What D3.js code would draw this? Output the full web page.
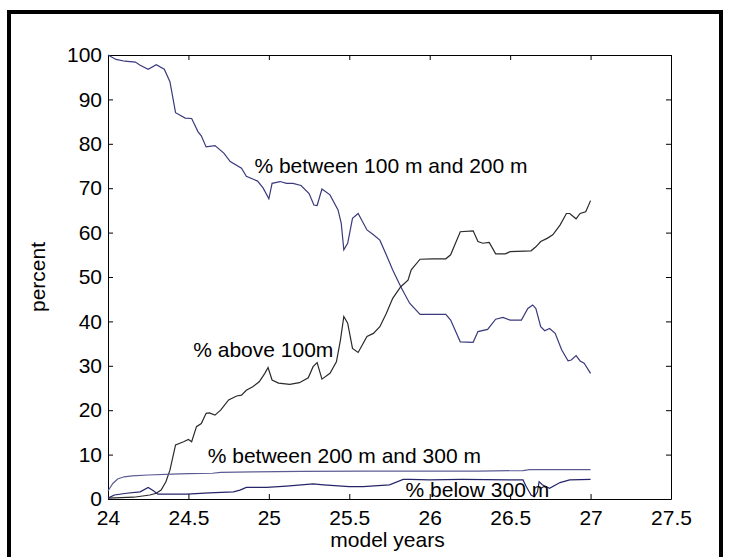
<!DOCTYPE html>
<html>
<head>
<meta charset="utf-8">
<script src="https://cdn.jsdelivr.net/npm/d3@7"></script>
<style>
  body { margin: 0; background: #fff; }
  svg text { font-family: "Liberation Sans", Arial, sans-serif; }
</style>
</head>
<body>
<svg id="chart" width="730" height="557"></svg>
<script>
// % of floats in each depth band (model years 24..27)
var midYears = [24.0, 24.05, 24.105, 24.17, 24.2, 24.25, 24.3, 24.35, 24.385, 24.42, 24.48, 24.52, 24.56, 24.58, 24.61, 24.665, 24.72, 24.76, 24.83, 24.86, 24.93, 24.965, 25.0, 25.02, 25.07, 25.11, 25.15, 25.2, 25.25, 25.28, 25.3, 25.33, 25.38, 25.43, 25.45, 25.466, 25.49, 25.52, 25.555, 25.61, 25.65, 25.69, 25.73, 25.77, 25.82, 25.875, 25.94, 26.02, 26.1, 26.13, 26.19, 26.27, 26.3, 26.36, 26.41, 26.455, 26.5, 26.57, 26.61, 26.64, 26.66, 26.69, 26.715, 26.745, 26.78, 26.82, 26.86, 26.88, 26.91, 26.935, 26.96, 27.0];
var midPct = [100, 99.0, 98.6, 98.4, 97.7, 96.8, 97.8, 96.8, 94.0, 87.0, 85.8, 85.7, 82.7, 81.8, 79.3, 79.6, 77.9, 76.0, 74.5, 72.7, 71.6, 70.0, 67.6, 71.1, 71.5, 71.1, 71.1, 70.6, 68.8, 66.2, 66.1, 69.8, 68.5, 65.1, 62.1, 56.1, 57.6, 63.2, 64.3, 60.6, 59.5, 58.3, 55.0, 51.6, 47.8, 44.1, 41.6, 41.6, 41.6, 40.3, 35.4, 35.3, 37.7, 38.2, 40.5, 40.9, 40.3, 40.3, 42.9, 43.7, 42.9, 38.8, 37.9, 38.4, 37.3, 33.6, 31.1, 31.3, 32.3, 31.1, 30.6, 28.3];

var aboveYears = [24.0, 24.16, 24.26, 24.3, 24.33, 24.36, 24.385, 24.42, 24.47, 24.5, 24.52, 24.55, 24.58, 24.61, 24.63, 24.665, 24.7, 24.75, 24.8, 24.83, 24.86, 24.9, 24.94, 24.975, 24.995, 25.02, 25.06, 25.13, 25.19, 25.245, 25.275, 25.3, 25.33, 25.38, 25.42, 25.445, 25.466, 25.49, 25.52, 25.555, 25.61, 25.65, 25.69, 25.73, 25.77, 25.82, 25.865, 25.885, 25.94, 26.02, 26.1, 26.13, 26.19, 26.27, 26.3, 26.33, 26.37, 26.41, 26.47, 26.5, 26.63, 26.66, 26.69, 26.73, 26.765, 26.81, 26.85, 26.87, 26.91, 26.935, 26.97, 27.0];
var abovePct = [0.2, 0.4, 0.9, 1.3, 2.0, 3.9, 6.5, 12.2, 12.9, 13.4, 12.9, 16.3, 17.0, 19.3, 19.4, 18.9, 20.0, 22.3, 23.2, 23.4, 24.5, 25.3, 26.4, 28.3, 29.6, 26.8, 26.1, 25.8, 26.2, 27.3, 29.8, 30.7, 27.0, 28.3, 30.9, 35.8, 41.1, 39.6, 33.9, 33.0, 36.6, 37.3, 38.8, 41.8, 45.2, 47.8, 49.3, 51.6, 54.0, 54.1, 54.1, 55.0, 60.2, 60.4, 58.0, 57.6, 57.8, 55.2, 55.2, 55.7, 55.9, 56.8, 58.0, 58.7, 59.5, 61.7, 64.3, 64.3, 63.1, 64.3, 64.7, 67.2];

var deepYears = [24.0, 24.03, 24.06, 24.1, 24.15, 24.25, 24.4, 24.5, 24.65, 24.7, 24.9, 25.2, 25.6, 26.3, 26.58, 26.62, 27.0];
var deepPct = [1.8, 3.5, 4.5, 5.0, 5.2, 5.4, 5.6, 5.7, 5.8, 6.0, 6.1, 6.2, 6.3, 6.3, 6.4, 6.6, 6.6];

var belowYears = [24.0, 24.04, 24.115, 24.2, 24.25, 24.28, 24.31, 24.36, 24.49, 24.63, 24.78, 24.82, 24.86, 24.985, 25.11, 25.275, 25.34, 25.5, 25.585, 25.75, 25.835, 25.875, 26.0, 26.2, 26.58, 26.6, 26.63, 26.65, 26.67, 26.68, 26.7, 26.745, 26.81, 26.87, 27.0];
var belowPct = [0.2, 0.9, 1.3, 1.6, 2.6, 1.9, 1.1, 1.1, 1.1, 1.4, 1.6, 2.0, 2.6, 2.6, 2.9, 3.4, 3.2, 2.8, 2.8, 3.2, 4.4, 4.4, 4.3, 4.4, 4.3, 2.8, 0.9, 0.5, 1.6, 3.9, 3.2, 2.4, 3.7, 4.3, 4.4];

var xTicks = [24, 24.5, 25, 25.5, 26, 26.5, 27, 27.5];
var yTicks = [0, 10, 20, 30, 40, 50, 60, 70, 80, 90, 100];

// text labels placed in data units, like matlab's text(x, y, str)
var labelText = ["% between 100 m and 200 m", "% above 100m", "% between 200 m and 300 m", "% below 300 m"];
var labelYear = [24.91, 24.53, 24.62, 25.85];
var labelPct = [75.0, 33.6, 9.7, 2.2];

var svg = d3.select("#chart");
var fontPx = 21;

// outer black frame
svg.append("rect")
    .attr("x", 9).attr("y", 12)
    .attr("width", 712).attr("height", 560)
    .attr("fill", "none")
    .attr("stroke", "#000")
    .attr("stroke-width", 4);

var plotL = 108, plotR = 671, plotT = 55, plotB = 499;

var x = d3.scaleLinear().domain([24, 27.5]).range([plotL, plotR]);
var y = d3.scaleLinear().domain([0, 100]).range([plotB, plotT]);

// axes box, ticks point inward
svg.append("g")
    .attr("transform", "translate(0," + plotB + ")")
    .call(d3.axisBottom(x).tickValues(xTicks).tickSizeInner(-5).tickSizeOuter(0).tickPadding(11)
        .tickFormat(d3.format("")));
svg.append("g")
    .attr("transform", "translate(0," + plotT + ")")
    .call(d3.axisTop(x).tickValues(xTicks).tickSizeInner(-5).tickSizeOuter(0).tickFormat(""));
svg.append("g")
    .attr("transform", "translate(" + plotL + ",0)")
    .call(d3.axisLeft(y).tickValues(yTicks).tickSizeInner(-5).tickSizeOuter(0).tickPadding(6));
svg.append("g")
    .attr("transform", "translate(" + plotR + ",0)")
    .call(d3.axisRight(y).tickValues(yTicks).tickSizeInner(-5).tickSizeOuter(0).tickFormat(""));

svg.selectAll(".tick text")
    .attr("font-size", fontPx)
    .attr("font-family", "Liberation Sans, Arial, sans-serif")
    .attr("fill", "#000");
svg.selectAll(".domain, .tick line").attr("stroke", "#000");

var line = d3.line()
    .x(function(d) { return x(d[0]); })
    .y(function(d) { return y(d[1]); });

var series = [
    {yrs: midYears, vals: midPct, color: "#3a3a7c"},
    {yrs: aboveYears, vals: abovePct, color: "#2a2a2a"},
    {yrs: deepYears, vals: deepPct, color: "#5c5c94"},
    {yrs: belowYears, vals: belowPct, color: "#25256a"}
];

series.forEach(function(s) {
    svg.append("path")
        .datum(d3.zip(s.yrs, s.vals))
        .attr("d", line)
        .attr("fill", "none")
        .attr("stroke", s.color)
        .attr("stroke-width", 1.2);
});

labelText.forEach(function(t, i) {
    svg.append("text")
        .attr("x", x(labelYear[i]))
        .attr("y", y(labelPct[i]))
        .attr("dy", "0.35em")
        .attr("font-size", fontPx)
        .text(t);
});

svg.append("text")
    .attr("x", (plotL + plotR) / 2 - 2)
    .attr("y", 547)
    .attr("text-anchor", "middle")
    .attr("font-size", fontPx)
    .text("model years");

svg.append("text")
    .attr("transform", "translate(45," + (plotT + plotB) / 2 + ") rotate(-90)")
    .attr("text-anchor", "middle")
    .attr("font-size", fontPx)
    .text("percent");
</script>
</body>
</html>
